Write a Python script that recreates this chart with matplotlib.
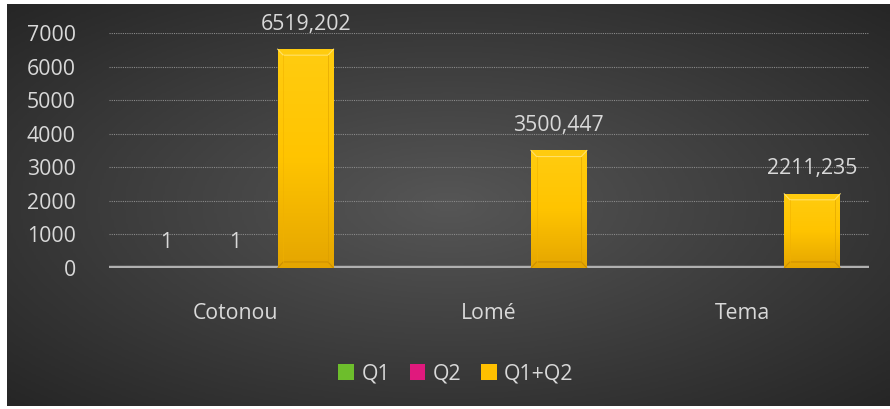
import numpy as np
import matplotlib
matplotlib.use("Agg")
import matplotlib.pyplot as plt
from matplotlib.colors import LinearSegmentedColormap
from matplotlib.patches import Patch

plt.rcParams['font.family'] = ['Open Sans', 'DejaVu Sans']

categories = ["Cotonou", "Lomé", "Tema"]
q1 = [1, np.nan, np.nan]
q2 = [1, np.nan, np.nan]
q1q2 = [6519.202, 3500.447, 2211.235]
q1_labels = ["1", "", ""]
q2_labels = ["1", "", ""]
q1q2_labels = ["6519,202", "3500,447", "2211,235"]
series_names = ["Q1", "Q2", "Q1+Q2"]
yticks = [0, 1000, 2000, 3000, 4000, 5000, 6000, 7000]

W, H = 890, 409
FS = 15.3
fig = plt.figure(figsize=(W / 100, H / 100), dpi=100, facecolor="white")

# background with radial gradient
bg = fig.add_axes([7 / W, 3 / H, 883 / W, 402 / H], zorder=0)
yy, xx = np.mgrid[-1:1:200j, -1:1:400j]
r = np.sqrt(xx ** 2 + yy ** 2) / np.sqrt(2)
bgcmap = LinearSegmentedColormap.from_list("bg", ["#565656", "#3e3e3e", "#262626"])
bg.imshow(r, cmap=bgcmap, aspect="auto", extent=[0, 1, 0, 1], vmin=0, vmax=1)
bg.set_axis_off()

ax = fig.add_axes([109 / W, 1 - 268 / H, 760 / W, 235 / H], zorder=1)
ax.set_facecolor("none")
x = np.arange(len(categories))
bw = 0.221
off = 0.276
text_color = "#D9D9D9"

colors = ["#6DBE2C", "#E0197D", "#FFC000"]
grad_cmaps = [
    LinearSegmentedColormap.from_list("g", ["#5AA81E", "#86D43E"]),
    LinearSegmentedColormap.from_list("m", ["#C5106A", "#F03590"]),
    LinearSegmentedColormap.from_list("y", ["#E5A600", "#FFC400", "#FFCC10"]),
]
all_vals = [q1, q2, q1q2]
all_labels = [q1_labels, q2_labels, q1q2_labels]

for i, (vals, labs) in enumerate(zip(all_vals, all_labels)):
    pos = x + (i - 1) * off
    bars = ax.bar(pos, vals, width=bw, color=colors[i], edgecolor="none", zorder=3)
    for b, v, lab in zip(bars, vals, labs):
        if np.isnan(v):
            continue
        bx, bwid, bh = b.get_x(), b.get_width(), b.get_height()
        if bh > 50:
            grad = np.linspace(0, 1, 100).reshape(-1, 1)
            im = ax.imshow(grad, cmap=grad_cmaps[i], aspect="auto",
                           extent=[bx, bx + bwid, 0, bh], origin="lower", zorder=4)
            im.set_clip_path(b)
            # bevel highlights
            ax.plot([bx, bx + bwid * 0.1, bx + bwid * 0.9, bx + bwid],
                    [bh, bh - 180, bh - 180, bh], color="#FFE680", lw=0.8, zorder=5, alpha=0.8)
            ax.plot([bx, bx + bwid * 0.1, bx + bwid * 0.9, bx + bwid],
                    [0, 180, 180, 0], color="#C88A00", lw=0.8, zorder=5, alpha=0.8)
            ax.plot([bx + bwid * 0.1, bx + bwid * 0.1], [180, bh - 180], color="#F0B000", lw=0.6, zorder=5, alpha=0.6)
            ax.plot([bx + bwid * 0.9, bx + bwid * 0.9], [180, bh - 180], color="#D89C00", lw=0.6, zorder=5, alpha=0.6)
        if lab:
            ax.annotate(lab, (b.get_x() + bwid / 2, v), xytext=(0, 18),
                        textcoords="offset points", ha="center", va="center",
                        color=text_color, fontsize=FS, zorder=6)

ax.set_xlim(-0.5, 2.5)
ax.set_ylim(0, 7000)
ax.set_yticks(yticks)
ax.set_yticklabels([str(t) for t in yticks])
ax.set_xticks(x)
ax.set_xticklabels(categories)
ax.tick_params(axis="y", length=0, pad=24, labelcolor=text_color, labelsize=FS)
ax.tick_params(axis="x", length=0, pad=25, labelcolor=text_color, labelsize=FS)
for s in ax.spines.values():
    s.set_visible(False)
ax.grid(axis="y", color="#8a8a8a", linestyle=(0, (1, 1)), linewidth=0.8, zorder=1)
ax.axhline(0, color="#b0b0b0", linewidth=3.2, zorder=2)

handles = [Patch(facecolor=c, edgecolor="none") for c in colors]
fig.legend(handles, series_names, loc="center", bbox_to_anchor=(456 / W, 1 - 374 / H),
           ncol=3, frameon=False, fontsize=FS, labelcolor=text_color,
           handlelength=0.75, handleheight=0.75, handletextpad=0.35, columnspacing=0.9)

fig.savefig("out.png", dpi=100, facecolor="white")
